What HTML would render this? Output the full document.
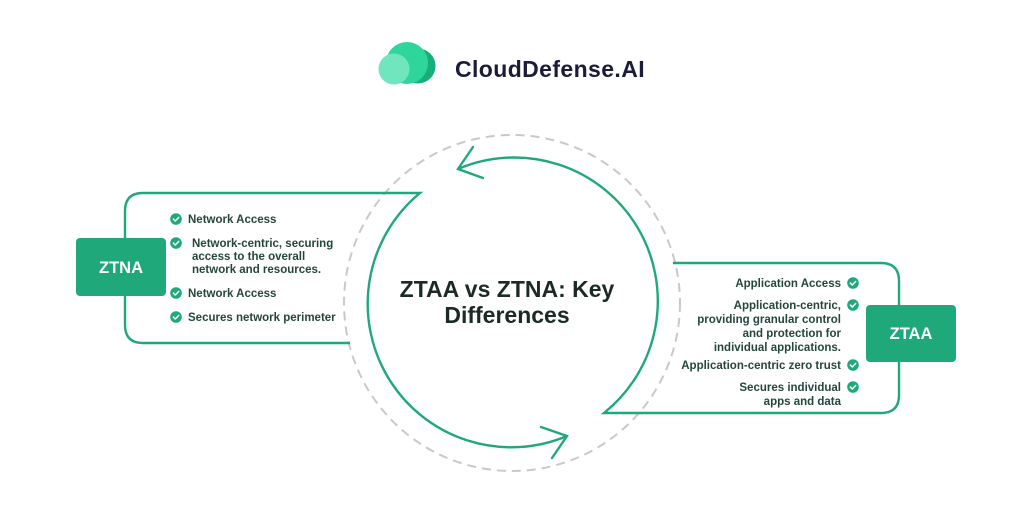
<!DOCTYPE html>
<html>
<head>
<meta charset="utf-8">
<style>
  html, body { margin: 0; padding: 0; background: #ffffff; }
  body { width: 1024px; height: 528px; overflow: hidden; }
  svg { display: block; }
  text { font-family: "Liberation Sans", "DejaVu Sans", sans-serif; font-weight: bold; }
</style>
</head>
<body>
<svg width="1024" height="528" viewBox="0 0 1024 528" xmlns="http://www.w3.org/2000/svg">
  <rect x="0" y="0" width="1024" height="528" fill="#ffffff"/>

  <!-- Logo -->
  <circle cx="418" cy="66" r="17.5" fill="#17ae7b"/>
  <circle cx="407" cy="63" r="21" fill="#2ed69b"/>
  <circle cx="394" cy="69" r="15.5" fill="#6fe6be"/>
  <text x="455" y="77" font-size="23" fill="#1b1b3a" letter-spacing="0.4">CloudDefense.AI</text>

  <!-- Dashed circle -->
  <circle cx="512" cy="303" r="168" fill="none" stroke="#c9c9c9" stroke-width="2" stroke-dasharray="9 6"/>

  <!-- Left box outline + left arc -->
  <path d="M 350 343 H 143 Q 125 343 125 325 V 211 Q 125 193 143 193 H 420 A 143.5 143.5 0 0 0 567 436"
        fill="none" stroke="#1fa879" stroke-width="2.4" stroke-linejoin="miter"/>
  <!-- bottom arrowhead -->
  <path d="M 541 427 L 567 436 L 552 458" fill="none" stroke="#1fa879" stroke-width="2.4" stroke-linecap="round" stroke-linejoin="miter"/>

  <!-- Right box outline + right arc -->
  <path d="M 458 169 A 143.5 143.5 0 0 1 604 413 H 881 Q 899 413 899 395 V 281 Q 899 263 881 263 H 673"
        fill="none" stroke="#1fa879" stroke-width="2.4" stroke-linejoin="miter"/>
  <!-- top arrowhead -->
  <path d="M 473 147 L 458 169 L 483 178" fill="none" stroke="#1fa879" stroke-width="2.4" stroke-linecap="round" stroke-linejoin="miter"/>

  <!-- ZTNA box -->
  <rect x="76" y="238" width="90" height="58" rx="4" fill="#1fa879"/>
  <text x="121" y="273" font-size="16.5" fill="#ffffff" text-anchor="middle">ZTNA</text>

  <!-- ZTAA box -->
  <rect x="866" y="305" width="90" height="57" rx="4" fill="#1fa879"/>
  <text x="911" y="339" font-size="16.5" fill="#ffffff" text-anchor="middle">ZTAA</text>

  <!-- Check icon symbol -->
  <defs>
    <g id="chk">
      <circle cx="0" cy="0" r="5.8" fill="#1fa879"/>
      <path d="M -2.6 0.1 L -0.7 2 L 2.7 -1.6" fill="none" stroke="#ffffff" stroke-width="1.5" stroke-linecap="round" stroke-linejoin="round"/>
    </g>
  </defs>

  <!-- Left bullets -->
  <g font-size="11.5" fill="#24473a">
    <use href="#chk" x="176" y="219"/>
    <text x="188" y="223">Network Access</text>
    <use href="#chk" x="176" y="243"/>
    <text x="192" y="247">Network-centric, securing</text>
    <text x="192" y="260">access to the overall</text>
    <text x="192" y="273">network and resources.</text>
    <use href="#chk" x="176" y="293"/>
    <text x="188" y="297">Network Access</text>
    <use href="#chk" x="176" y="317"/>
    <text x="188" y="321">Secures network perimeter</text>
  </g>

  <!-- Right bullets -->
  <g font-size="11.5" fill="#24473a" text-anchor="end">
    <use href="#chk" x="853" y="283"/>
    <text x="841" y="287">Application Access</text>
    <use href="#chk" x="853" y="305"/>
    <text x="841" y="309">Application-centric,</text>
    <text x="841" y="323">providing granular control</text>
    <text x="841" y="337">and protection for</text>
    <text x="841" y="351">individual applications.</text>
    <use href="#chk" x="853" y="365"/>
    <text x="841" y="369">Application-centric zero trust</text>
    <use href="#chk" x="853" y="387"/>
    <text x="841" y="391">Secures individual</text>
    <text x="841" y="405">apps and data</text>
  </g>

  <!-- Title -->
  <g font-size="23" fill="#1c2a25" text-anchor="middle">
    <text x="507" y="297">ZTAA vs ZTNA: Key</text>
    <text x="507" y="323">Differences</text>
  </g>
</svg>
</body>
</html>
